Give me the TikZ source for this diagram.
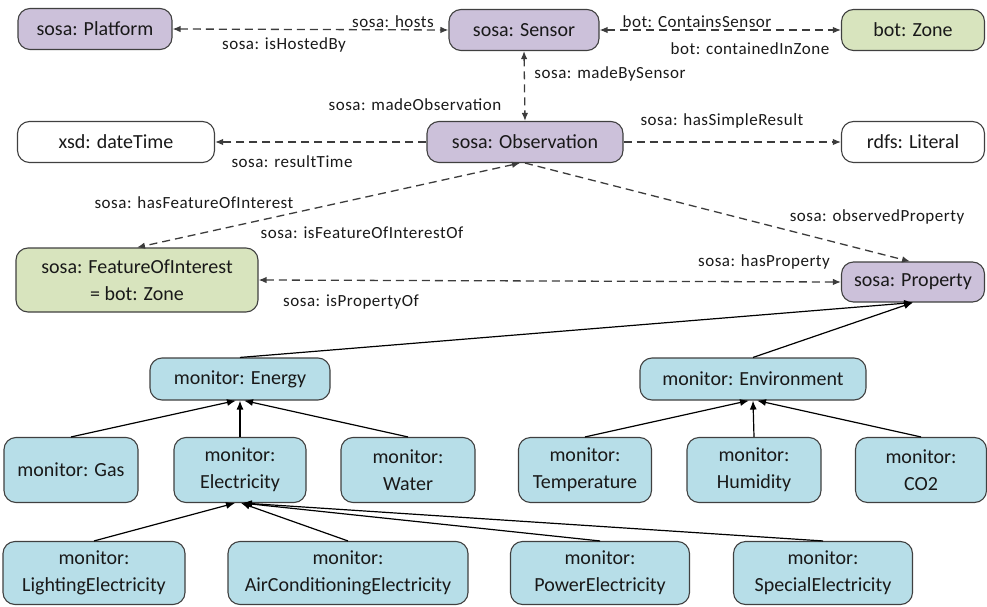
\documentclass[tikz,border=0pt]{standalone}
\usepackage{fontspec}
\setmainfont{Carlito}
\newfontfamily\lblfont[LetterSpace=3]{Carlito}
\usetikzlibrary{arrows.meta}

\definecolor{sosafill}{RGB}{204,193,218}
\definecolor{zonefill}{RGB}{216,228,190}
\definecolor{monfill}{RGB}{183,222,232}
\definecolor{edgegray}{RGB}{64,64,64}
\definecolor{dashgray}{RGB}{60,60,60}

\tikzset{
  box/.style={draw=edgegray, line width=1.1pt, rounded corners=12pt, inner sep=1pt,
              align=center, font=\fontsize{20}{27}\selectfont, text=black!90},
  sosabox/.style={box, fill=sosafill},
  zonebox/.style={box, fill=zonefill},
  plainbox/.style={box, fill=white},
  monbox/.style={box, fill=monfill},
  lbl/.style={font=\lblfont\fontsize{17}{19}\selectfont, text=black!90, inner sep=0pt},
  rel/.style={draw=dashgray, line width=1.3pt, dash pattern=on 8pt off 5pt,
              {Latex[length=8pt,width=6.5pt]}-{Latex[length=8pt,width=6.5pt]}},
  rel1/.style={draw=dashgray, line width=1.3pt, dash pattern=on 8pt off 5pt,
              -{Latex[length=8pt,width=6.5pt]}},
  sub/.style={draw=black, line width=1.2pt, -{Latex[length=9pt,width=7pt]}},
}

\begin{document}
\begin{tikzpicture}[x=1pt, y=-1pt]
  \useasboundingbox (0,0) rectangle (987,607);

  % top row
  \node[sosabox, minimum width=154, minimum height=41] (pl) at (95,29) {sosa: Platform};
  \node[sosabox, minimum width=150, minimum height=41] (se) at (524,30) {sosa: Sensor};
  \node[zonebox, minimum width=143, minimum height=41] (zo) at (913,30) {bot: Zone};

  % observation row
  \node[plainbox, minimum width=197, minimum height=41] (dt) at (116,142) {xsd: dateTime};
  \node[sosabox, minimum width=196, minimum height=41] (ob) at (525,142) {sosa: Observation};
  \node[plainbox, minimum width=143, minimum height=41] (li) at (913,142) {rdfs: Literal};

  % feature / property row
  \node[zonebox, minimum width=242, minimum height=64] (fo) at (137,280) {sosa: FeatureOfInterest\\= bot: Zone};
  \node[sosabox, minimum width=143, minimum height=40] (pr) at (913,282) {sosa: Property};

  % monitor hierarchy
  \node[monbox, minimum width=180, minimum height=42] (en) at (240,379) {monitor: Energy};
  \node[monbox, minimum width=226, minimum height=42] (ev) at (753,379) {monitor: Environment};

  \node[monbox, minimum width=134, minimum height=65] (ga) at (71,470) {monitor: Gas};
  \node[monbox, minimum width=132, minimum height=65] (el) at (240,470) {monitor:\\Electricity};
  \node[monbox, minimum width=134, minimum height=65] (wa) at (408,470) {monitor:\\Water};
  \node[monbox, minimum width=133, minimum height=65] (te) at (585,470) {monitor:\\Temperature};
  \node[monbox, minimum width=134, minimum height=65] (hu) at (754,470) {monitor:\\Humidity};
  \node[monbox, minimum width=131, minimum height=65] (co) at (921,470) {monitor:\\CO2};

  \node[monbox, minimum width=182, minimum height=63] (le) at (94,573) {monitor:\\LightingElectricity};
  \node[monbox, minimum width=240, minimum height=63] (ac) at (348,573) {monitor:\\AirConditioningElectricity};
  \node[monbox, minimum width=179, minimum height=63] (pe) at (600,573) {monitor:\\PowerElectricity};
  \node[monbox, minimum width=179, minimum height=63] (sp) at (823,573) {monitor:\\SpecialElectricity};

  % dashed relations
  \draw[rel] (pl.east) -- (se.west);
  \draw[rel] (se.east) -- (zo.west);
  \draw[rel] (se.south) -- (ob.north);
  \draw[rel1] (ob.west) -- (dt.east);
  \draw[rel1] (ob.east) -- (li.west);
  \draw[rel] ([xshift=-5pt]ob.south) -- (fo.north);
  \draw[rel1] (ob.south) -- ([xshift=-3pt]pr.north);
  \draw[rel] (fo.east) -- (pr.west);

  % relation labels
  \node[lbl] (lhosts) at (393,22) {sosa: hosts};
  \node[lbl] (lhosted) at (284,45) {sosa: isHostedBy};
  \node[lbl] (lcont) at (697,22) {bot: ContainsSensor};
  \node[lbl] (lin) at (750,49) {bot: containedInZone};
  \node[lbl] (lmbs) at (610,74) {sosa: madeBySensor};
  \node[lbl] (lmo) at (415,105) {sosa: madeObservation};
  \node[lbl] (lrt) at (292,162) {sosa: resultTime};
  \node[lbl] (lsr) at (722,121) {sosa: hasSimpleResult};
  \node[lbl] (lhf) at (194,203) {sosa: hasFeatureOfInterest};
  \node[lbl] (lif) at (362,233) {sosa: isFeatureOfInterestOf};
  \node[lbl] (lop) at (877,217) {sosa: observedProperty};
  \node[lbl] (lhp) at (764,262) {sosa: hasProperty};
  \node[lbl] (lip) at (351,302) {sosa: isPropertyOf};

  % subclass links
  \draw[sub] (en.north) -- (pr.south);
  \draw[sub] (ev.north) -- (pr.south);

  \draw[sub] (ga.north) -- ([xshift=-4pt]en.south);
  \draw[sub] (el.north) -- (en.south);
  \draw[sub] (wa.north) -- ([xshift=4pt]en.south);

  \draw[sub] (te.north) -- ([xshift=-4pt]ev.south);
  \draw[sub] (hu.north) -- (ev.south);
  \draw[sub] (co.north) -- ([xshift=4pt]ev.south);

  \draw[sub] (le.north) -- ([xshift=-5pt]el.south);
  \draw[sub] (ac.north) -- ([xshift=1pt]el.south);
  \draw[sub] (pe.north) -- ([xshift=2pt]el.south);
  \draw[sub] (sp.north) -- ([xshift=3pt]el.south);
\end{tikzpicture}
\end{document}
